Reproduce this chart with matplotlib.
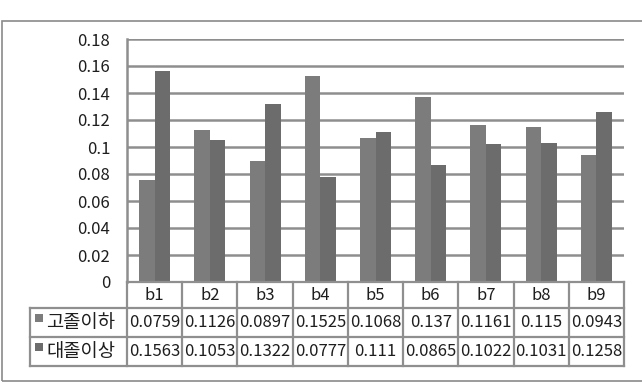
import matplotlib
matplotlib.use("Agg")
import matplotlib.pyplot as plt
from matplotlib.patches import Rectangle
import numpy as np

plt.rcParams['font.family'] = ['Noto Sans CJK KR', 'DejaVu Sans']

categories = ["b1", "b2", "b3", "b4", "b5", "b6", "b7", "b8", "b9"]
series_names = ["고졸이하", "대졸이상"]
high_school = [0.0759, 0.1126, 0.0897, 0.1525, 0.1068, 0.137, 0.1161, 0.115, 0.0943]
college = [0.1563, 0.1053, 0.1322, 0.0777, 0.111, 0.0865, 0.1022, 0.1031, 0.1258]
yticks = [0, 0.02, 0.04, 0.06, 0.08, 0.1, 0.12, 0.14, 0.16, 0.18]
ytick_labels = ["0", "0.02", "0.04", "0.06", "0.08", "0.1", "0.12", "0.14", "0.16", "0.18"]

colors = ["#7c7c7c", "#6c6c6c"]
grid_c = "#8e8e8e"
line_c = "#8f8f8f"
text_c = "#1e1e1e"

W, H = 642, 384
fig = plt.figure(figsize=(W / 100, H / 100), dpi=100)

def fx(px):
    return px / W

def fy(py):
    return 1 - py / H

# outer border
fig.patches.append(Rectangle((fx(2), fy(381)), fx(660) - fx(2), fy(21) - fy(381),
                             transform=fig.transFigure, fill=False,
                             edgecolor="#8a8a8a", linewidth=1.2))

left, right, top, bottom = 127, 624, 39, 282
ax = fig.add_axes([fx(left), fy(bottom), fx(right) - fx(left), fy(top) - fy(bottom)])
x = np.arange(len(categories))
bw = 0.28
ax.bar(x - bw / 2, high_school, bw, color=colors[0], zorder=3)
ax.bar(x + bw / 2, college, bw, color=colors[1], zorder=3)
ax.set_xlim(-0.5, len(categories) - 0.5)
ax.set_ylim(0, 0.18)
ax.set_yticks(yticks)
ax.set_yticklabels(ytick_labels)
ax.set_xticks([])
ax.tick_params(axis='y', length=0, pad=12, labelsize=12, labelcolor=text_c)
ax.yaxis.grid(True, color=grid_c, linewidth=1.8, zorder=0)
ax.set_axisbelow(True)
for s in ["top", "right", "bottom"]:
    ax.spines[s].set_visible(False)
ax.spines["left"].set_color(grid_c)
ax.spines["left"].set_linewidth(1.8)

# data table
t_bottom = 366
tab = fig.add_axes([fx(left), fy(t_bottom), fx(right) - fx(left), fy(bottom) - fy(t_bottom)])
tab.set_xlim(-0.5, len(categories) - 0.5)
tab.set_ylim(0, t_bottom - bottom)
tab.axis("off")
row_h = [26, 29, 29]  # header, row1, row2 (pixels)
ytop = t_bottom - bottom
y_h = ytop - row_h[0]
y_r1 = y_h - row_h[1]
y_r2 = 0
unit = (right - left) / len(categories)
leg_left = -0.5 - (left - 30) / unit
lw = 1.6
kw = dict(color=line_c, linewidth=lw, clip_on=False)
tab.plot([-0.5, len(categories) - 0.5], [ytop, ytop], **kw)
tab.plot([leg_left, len(categories) - 0.5], [y_h, y_h], **kw)
tab.plot([leg_left, len(categories) - 0.5], [y_r1, y_r1], **kw)
tab.plot([leg_left, len(categories) - 0.5], [y_r2, y_r2], **kw)
for i in range(len(categories) + 1):
    tab.plot([i - 0.5, i - 0.5], [0, ytop], **kw)
tab.plot([leg_left, leg_left], [0, y_h], **kw)

for i, c in enumerate(categories):
    tab.text(i, (ytop + y_h) / 2, c, ha="center", va="center", fontsize=12, color=text_c)
rows = [high_school, college]
row_mid = [(y_h + y_r1) / 2, (y_r1 + y_r2) / 2]
for r, vals in enumerate(rows):
    for i, v in enumerate(vals):
        tab.text(i, row_mid[r], str(v), ha="center", va="center", fontsize=12, color=text_c)
    mx = leg_left + 5 / unit
    tab.add_patch(Rectangle((mx, row_mid[r] + 1), 8 / unit, 8, facecolor=colors[r],
                            edgecolor="none", clip_on=False))
    tab.text(mx + 11 / unit, row_mid[r], series_names[r], ha="left", va="center",
             fontsize=13.5, color=text_c, clip_on=False)

fig.savefig("out.png", dpi=100)
